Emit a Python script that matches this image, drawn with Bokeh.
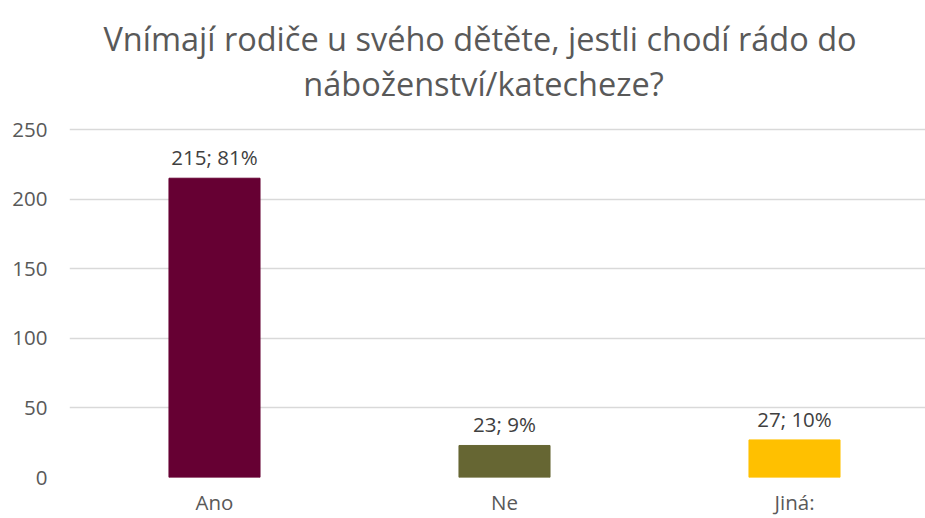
from bokeh.plotting import figure
from bokeh.models import Range1d, FixedTicker, ColumnDataSource, Label
from bokeh.embed import file_html
from bokeh.resources import INLINE

categories = ["Ano", "Ne", "Jiná:"]
counts = [215, 23, 27]
percents = ["81%", "9%", "10%"]
colors = ["#660033", "#666633", "#FFC000"]
y_ticks = [0, 50, 100, 150, 200, 250]
title_lines = ["Vnímají rodiče u svého dětěte, jestli chodí rádo do", "náboženství/katecheze?"]

FONT = "Open Sans"
x_pos = [i + 0.5 for i in range(len(categories))]
labels = [f"{c}; {p}" for c, p in zip(counts, percents)]

src = ColumnDataSource(dict(x=x_pos, top=counts, color=colors, label=labels))

# plot frame spans the whole height above the x axis; the y scale puts 250 at 129px from top
PX_PER_UNIT = 348 / 250
p = figure(width=925, height=518, output_backend="svg", toolbar_location=None,
           x_range=Range1d(0, 856 / 290), y_range=Range1d(0, 250 + 129 / PX_PER_UNIT),
           min_border_left=69, min_border_right=0, min_border_top=0, min_border_bottom=41)
p.outline_line_color = None
p.background_fill_color = "white"
p.border_fill_color = "white"

# title lines (screen units, from frame bottom-left)
title_pos = [(410.5, 439), (414, 394)]
for t, (sx, sy) in zip(title_lines, title_pos):
    p.add_layout(Label(x=sx, y=sy, x_units="screen", y_units="screen", text=t,
                       text_align="center", text_baseline="alphabetic",
                       text_font=FONT, text_font_size="32.5px", text_color="#595959"))

p.vbar(x="x", top="top", width=0.314, color="color", source=src)
p.text(x="x", y="top", text="label", source=src, text_align="center", text_baseline="middle",
       y_offset=-21, text_font_size="20.5px", text_color="#404040", text_font={"value": FONT})

p.yaxis.ticker = FixedTicker(ticks=y_ticks)
p.xaxis.ticker = FixedTicker(ticks=x_pos)
p.xaxis.major_label_overrides = {x: c for x, c in zip(x_pos, categories)}
for ax in (p.xaxis[0], p.yaxis[0]):
    ax.axis_line_color = None
    ax.major_tick_line_color = None
    ax.minor_tick_line_color = None
    ax.major_tick_out = 0
    ax.major_tick_in = 0
    ax.minor_tick_out = 0
    ax.major_label_text_color = "#595959"
    ax.major_label_text_font = FONT
    ax.major_label_text_font_size = "20.5px"
p.yaxis.major_label_standoff = 22
p.xaxis.major_label_standoff = 10

p.xgrid.grid_line_color = None
p.ygrid.grid_line_color = "#D9D9D9"
p.ygrid.grid_line_width = 1.5

open("out.html", "w").write(file_html(p, INLINE))
